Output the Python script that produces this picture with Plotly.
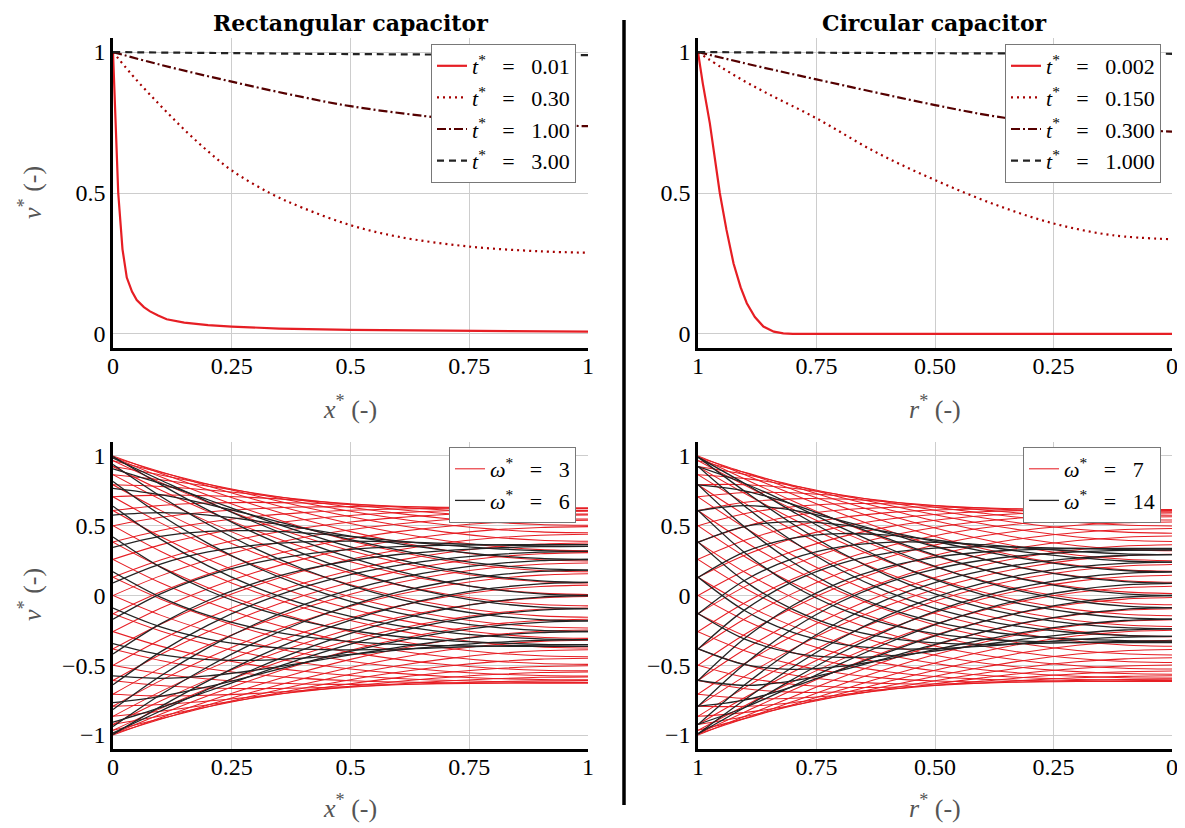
import numpy as np
import plotly.graph_objects as go

# ---------------- data ----------------
# Top-left: rectangular capacitor, transient profiles v*(x*)
rect_t_labels = ["0.01", "0.30", "1.00", "3.00"]
rect_x_t1 = [0, 0.005, 0.011, 0.02, 0.029, 0.04, 0.05, 0.065, 0.078, 0.095, 0.113, 0.15, 0.2, 0.25, 0.35, 0.5, 0.75, 1.0]
rect_v_t1 = [1, 0.75, 0.5, 0.30, 0.20, 0.15, 0.12, 0.095, 0.08, 0.065, 0.052, 0.04, 0.031, 0.026, 0.019, 0.014, 0.010, 0.008]
rect_x_t2 = [0, 0.05, 0.1, 0.15, 0.2, 0.25, 0.33, 0.4, 0.5, 0.6, 0.75, 0.9, 1.0]
rect_v_t2 = [1, 0.9, 0.81, 0.725, 0.648, 0.58, 0.5, 0.447, 0.386, 0.345, 0.31, 0.293, 0.288]
rect_x_t3 = [0, 0.1, 0.25, 0.4, 0.5, 0.656, 0.75, 0.9, 1.0]
rect_v_t3 = [1, 0.955, 0.895, 0.84, 0.808, 0.773, 0.757, 0.742, 0.737]
rect_x_t4 = [0, 0.5, 1.0]
rect_v_t4 = [1, 0.993, 0.989]

# Top-right: circular capacitor, transient profiles v*(r*)
circ_t_labels = ["0.002", "0.150", "0.300", "1.000"]
circ_r_t1 = [1, 0.99, 0.975, 0.954, 0.94, 0.925, 0.91, 0.897, 0.88, 0.862, 0.84, 0.82, 0.8, 0.7, 0.5, 0.25, 0]
circ_v_t1 = [1, 0.89, 0.747, 0.5, 0.37, 0.25, 0.165, 0.109, 0.06, 0.026, 0.008, 0.002, 0, 0, 0, 0, 0]
circ_r_t2 = [1, 0.95, 0.9, 0.85, 0.75, 0.625, 0.5, 0.375, 0.25, 0.125, 0]
circ_v_t2 = [1, 0.945, 0.895, 0.85, 0.765, 0.645, 0.546, 0.46, 0.392, 0.35, 0.336]
circ_r_t3 = [1, 0.875, 0.75, 0.5, 0.377, 0.25, 0.125, 0]
circ_v_t3 = [1, 0.95, 0.903, 0.812, 0.773, 0.745, 0.727, 0.718]
circ_r_t4 = [1, 0.5, 0]
circ_v_t4 = [1, 0.996, 0.994]

# Bottom: periodic steady state, envelope amplitude and phase lag along the position
pos_samples = [0, 0.1, 0.2, 0.3, 0.4, 0.5, 0.6, 0.7, 0.8, 0.9, 1.0]
rect_w3_amp = [1.000, 0.888, 0.799, 0.733, 0.687, 0.657, 0.640, 0.632, 0.629, 0.628, 0.628]
rect_w3_lag = [0.000, 0.159, 0.323, 0.490, 0.651, 0.800, 0.928, 1.031, 1.106, 1.151, 1.166]
rect_w6_amp = [1.000, 0.828, 0.687, 0.573, 0.487, 0.428, 0.392, 0.373, 0.366, 0.365, 0.365]
rect_w6_lag = [0.000, 0.185, 0.381, 0.592, 0.818, 1.054, 1.280, 1.476, 1.623, 1.712, 1.742]
circ_pos_samples = [1, 0.9, 0.8, 0.7, 0.6, 0.5, 0.4, 0.3, 0.2, 0.1, 0]
circ_w7_amp = [1.000, 0.882, 0.791, 0.723, 0.676, 0.646, 0.629, 0.620, 0.617, 0.617, 0.617]
circ_w7_lag = [0.000, 0.205, 0.412, 0.617, 0.811, 0.987, 1.138, 1.259, 1.346, 1.398, 1.416]
circ_w14_amp = [1.000, 0.807, 0.657, 0.541, 0.456, 0.398, 0.364, 0.346, 0.340, 0.338, 0.338]
circ_w14_lag = [0.000, 0.271, 0.547, 0.832, 1.123, 1.414, 1.685, 1.916, 2.087, 2.192, 2.227]
n_red_phases = 48
n_black_phases = 24

# ---------------- styling ----------------
FONT = "Liberation Serif, Times New Roman, serif"
TFONT = "DejaVu Serif, serif"
RED = "rgb(230,30,36)"
DARKRED = "rgb(165,0,0)"
DEEPRED = "rgb(85,0,0)"
DARK = "rgb(35,35,35)"
GRID = "rgb(205,205,205)"

W, H = 1185, 828
OFF = 8  # page offset of the plot div


def px(x):
    return (x - OFF) / W


def py(y):
    return 1 - (y - OFF) / H


fig = go.Figure()

EQ = "\u2002 = \u2002"


def tlab(s):
    return "<i>t</i><sup>*</sup>" + EQ + s


top_styles = [
    dict(color=RED, width=2.2, dash="solid"),
    dict(color=DARKRED, width=2.2, dash="2px,4px"),
    dict(color=DEEPRED, width=2.2, dash="9px,3px,2px,3px"),
    dict(color=DARK, width=2.2, dash="7px,5px"),
]
rect_sets = [(rect_x_t1, rect_v_t1), (rect_x_t2, rect_v_t2), (rect_x_t3, rect_v_t3), (rect_x_t4, rect_v_t4)]
circ_sets = [(circ_r_t1, circ_v_t1), (circ_r_t2, circ_v_t2), (circ_r_t3, circ_v_t3), (circ_r_t4, circ_v_t4)]

for i, (xs, vs) in enumerate(rect_sets):
    fig.add_trace(go.Scatter(x=xs, y=vs, mode="lines", name=tlab(rect_t_labels[i]),
                             line=dict(top_styles[i], shape="linear" if i == 0 else "spline"),
                             xaxis="x", yaxis="y", legend="legend"))
for i, (xs, vs) in enumerate(circ_sets):
    fig.add_trace(go.Scatter(x=xs, y=vs, mode="lines", name=tlab(circ_t_labels[i]),
                             line=dict(top_styles[i], shape="linear" if i == 0 else "spline"),
                             xaxis="x2", yaxis="y2", legend="legend2"))


def family(pos, amp, lag, n, start, color, width, name, xa, ya, leg):
    amp = np.array(amp)
    lag = np.array(lag)
    for k in range(n):
        th = start + 2 * np.pi * k / n
        v = amp * np.cos(th - lag)
        fig.add_trace(go.Scatter(x=pos, y=v, mode="lines", name=name,
                                 line=dict(color=color, width=width, shape="spline"),
                                 legendgroup=name + xa, showlegend=(k == 0),
                                 xaxis=xa, yaxis=ya, legend=leg, hoverinfo="skip"))


family(pos_samples, rect_w3_amp, rect_w3_lag, n_red_phases, 0.0, RED, 1.05,
       "<i>ω</i><sup>*</sup>" + EQ + "3", "x3", "y3", "legend3")
family(pos_samples, rect_w6_amp, rect_w6_lag, n_black_phases, rect_w6_lag[-1], DARK, 1.3,
       "<i>ω</i><sup>*</sup>" + EQ + "6", "x3", "y3", "legend3")
family(circ_pos_samples, circ_w7_amp, circ_w7_lag, n_red_phases, 0.0, RED, 1.05,
       "<i>ω</i><sup>*</sup>" + EQ + "7", "x4", "y4", "legend4")
family(circ_pos_samples, circ_w14_amp, circ_w14_lag, n_black_phases, circ_w14_lag[-1], DARK, 1.3,
       "<i>ω</i><sup>*</sup>" + EQ + "14", "x4", "y4", "legend4")

xl = [px(113), px(588)]
xr = [px(698), px(1172)]
yt = [py(348), py(38)]
yb = [py(749), py(442)]

tickfont = dict(family=FONT, size=24, color="black")


def xax(dom, anchor, rng, vals, texts):
    return dict(domain=dom, anchor=anchor, range=rng, tickvals=vals, ticktext=texts,
                showgrid=True, gridcolor=GRID, gridwidth=1, zeroline=False,
                showline=True, linecolor="black", linewidth=2.5, ticks="", ticklen=0,
                tickfont=tickfont, ticklabelstandoff=-6, fixedrange=True)


def yax(dom, anchor, rng, vals, texts):
    return dict(domain=dom, anchor=anchor, range=rng, tickvals=vals, ticktext=texts,
                showgrid=True, gridcolor=GRID, gridwidth=1, zeroline=False,
                showline=True, linecolor="black", linewidth=2.5, ticks="", ticklen=0,
                tickfont=tickfont, ticklabelstandoff=0, fixedrange=True)


rect_ticks = [0, 0.25, 0.5, 0.75, 1]
rect_tick_text = ["0", "0.25", "0.5", "0.75", "1"]
circ_ticks = [1, 0.75, 0.5, 0.25, 0]
circ_tick_text = ["1", "0.75", "0.50", "0.25", "0"]
top_yticks = [0, 0.5, 1]
top_ytext = ["0", "0.5", "1"]
bot_yticks = [-1, -0.5, 0, 0.5, 1]
bot_ytext = ["\u22121", "\u22120.5", "0", "0.5", "1"]

legend_common = dict(bgcolor="white", bordercolor="rgb(120,120,120)", borderwidth=1,
                     font=dict(family=FONT, size=22, color="black"),
                     xanchor="right", yanchor="top", tracegroupgap=0, itemwidth=30)

fig.update_layout(
    width=W, height=H, margin=dict(l=0, r=0, t=0, b=0, autoexpand=False),
    paper_bgcolor="white", plot_bgcolor="white",
    xaxis=xax(xl, "y", [0, 1], rect_ticks, rect_tick_text),
    yaxis=yax(yt, "x", [-0.05, 1.05], top_yticks, top_ytext),
    xaxis2=xax(xr, "y2", [1, 0], circ_ticks, circ_tick_text),
    yaxis2=yax(yt, "x2", [-0.05, 1.05], top_yticks, top_ytext),
    xaxis3=xax(xl, "y3", [0, 1], rect_ticks, rect_tick_text),
    yaxis3=yax(yb, "x3", [-1.1, 1.1], bot_yticks, bot_ytext),
    xaxis4=xax(xr, "y4", [1, 0], circ_ticks, circ_tick_text),
    yaxis4=yax(yb, "x4", [-1.1, 1.1], bot_yticks, bot_ytext),
    legend=dict(legend_common, x=px(576), y=py(44)),
    legend2=dict(legend_common, x=px(1161), y=py(44)),
    legend3=dict(legend_common, x=px(576), y=py(447)),
    legend4=dict(legend_common, x=px(1161), y=py(447)),
    showlegend=True,
)

# separator line
fig.add_shape(type="line", xref="paper", yref="paper", x0=px(624), x1=px(624), y0=py(20), y1=py(805),
              line=dict(color="black", width=3.5))

titlefont = dict(family=TFONT, size=22, color="black")
axfont = dict(family=FONT, size=26, color="rgb(85,85,85)")
ann = [
    dict(text="<b>Rectangular capacitor</b>", x=px(350), y=py(8.5), font=titlefont, yanchor="top", borderpad=0),
    dict(text="<b>Circular capacitor</b>", x=px(935), y=py(8.5), font=titlefont, yanchor="top", borderpad=0),
    dict(text="<i>x</i><sup>*</sup> (-)", x=px(350), y=py(408), font=axfont),
    dict(text="<i>r</i><sup>*</sup> (-)", x=px(935), y=py(408), font=axfont),
    dict(text="<i>x</i><sup>*</sup> (-)", x=px(350), y=py(806), font=axfont),
    dict(text="<i>r</i><sup>*</sup> (-)", x=px(935), y=py(806), font=axfont),
    dict(text="<i>v</i><sup>*</sup> (-)", x=px(30), y=py(193), font=axfont, textangle=-90),
    dict(text="<i>v</i><sup>*</sup> (-)", x=px(30), y=py(595), font=axfont, textangle=-90),
]
for a in ann:
    a.setdefault("yanchor", "middle")
    fig.add_annotation(xref="paper", yref="paper", showarrow=False, xanchor="center", **a)

fig.write_html("out.html")
